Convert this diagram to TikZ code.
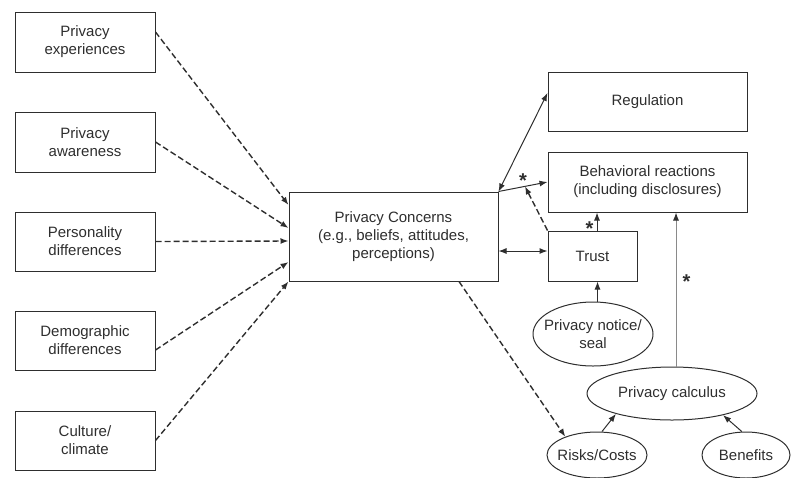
\documentclass[tikz,border=0pt]{standalone}
\usepackage{fontspec}
\setmainfont{Liberation Sans}
\usetikzlibrary{arrows.meta, shapes, calc}
\tikzset{>={Latex[length=8pt,width=6pt]}}

\definecolor{ink}{HTML}{2E2E2E}
\definecolor{pale}{HTML}{8A8A8A}

\begin{document}
\begin{tikzpicture}[
    x = 1pt, y = -1pt,
    font = \fontsize{15}{18}\selectfont,
    every node/.style = {text = ink},
    box/.style = {draw = ink, line width = 1pt, align = center, inner sep = 0pt},
    oval/.style = {ellipse, draw = ink, line width = 1pt, inner sep = 0pt},
    star/.style = {font = \fontsize{20}{20}\selectfont\bfseries, inner sep = 1pt},
    d0/.style = {draw = ink, line width = 1pt},
    d1/.style = {draw = ink, line width = 1.4pt, dash pattern = on 6pt off 3pt},
]
\useasboundingbox (0,0) rectangle (791,477);

% antecedents
\node[box, minimum width = 140, minimum height = 60] (exp) at (85,42) {Privacy\\experiences};
\node[box, minimum width = 140, minimum height = 60] (awa) at (85,142) {Privacy\\awareness};
\node[box, minimum width = 140, minimum height = 59] (per) at (85,241.5) {Personality\\differences};
\node[box, minimum width = 140, minimum height = 59] (dem) at (85,340.5) {Demographic\\differences};
\node[box, minimum width = 140, minimum height = 59] (cul) at (85,440.5) {Culture/\\climate};

\node[box, minimum width = 209, minimum height = 89] (conc) at (393.5,236.5)
    {Privacy Concerns\\(e.g., beliefs, attitudes,\\perceptions)};

% outcomes
\node[box, minimum width = 199, minimum height = 59] (reg) at (647.5,101.5) {Regulation};
\node[box, minimum width = 199, minimum height = 60] (beh) at (647.5,182) {Behavioral reactions\\(including disclosures)};
\node[box, minimum width = 89, minimum height = 50] (trust) at (592.5,256) {Trust};

\node[oval, minimum width = 120, minimum height = 64] (notice) at (593,334) {};
\node[align = center] (noticetxt) at (notice.center) {Privacy notice/\\seal};
\node[oval, minimum width = 170, minimum height = 53] (calc) at (672,393.5) {};
\node (calctxt) at (calc.center) {Privacy calculus};
\node[oval, minimum width = 100, minimum height = 46] (risk) at (597,455) {};
\node (risktxt) at (risk.center) {Risks/Costs};
\node[oval, minimum width = 88, minimum height = 46] (ben) at (746,455) {};
\node (bentxt) at (ben.center) {Benefits};

% dashed antecedent arrows
\draw[d1, ->] ([yshift = 10pt]exp.east) -- ([yshift = 31.5pt]conc.west);
\draw[d1, ->] (awa.east) -- ([yshift = 8.5pt]conc.west);
\draw[d1, ->] (per.east) -- ([yshift = -4.5pt]conc.west);
\draw[d1, ->] ([yshift = -9.5pt]dem.east) -- ([yshift = -25.5pt]conc.west);
\draw[d1, ->] (cul.east) -- (conc.south west);

% concerns to outcomes
\draw[d0, <->] (conc.north east) -- ([yshift = 8.5pt]reg.west);
\draw[d0, ->] (conc.north east) -- node[star, above = -2pt, pos = 0.5] (s1) {*} coordinate[pos = 0.54] (mid) (beh.west);
\draw[d1, ->] (trust.north west) -- (mid);
\draw[d0, <->] ([yshift = -14.5pt]conc.east) -- ([yshift = -14.5pt]conc.east -| trust.west);

\coordinate (tn) at ([xshift = 4.5pt]trust.north);
\draw[d0, ->] (tn) -- node[star, left = 2pt, pos = 0.1] (s2) {*} (tn |- beh.south);
\draw[d0, ->] ([xshift = 4.5pt]notice.north) -- ([xshift = 4.5pt]notice.north |- trust.south);

\coordinate (cn) at ([xshift = 4pt]calc.north);
\draw[draw = pale, line width = 1pt, -{Latex[length=8pt, width=6pt, color=ink]}] (cn) -- node[star, right = 5pt, pos = 0.55] (s3) {*} (cn |- beh.south);

\draw[d1, ->] ([xshift = 65.5pt]conc.south) -- (risk.150);
\draw[d0, ->] ([xshift = 5pt]risk.north) -- (calc.200);
\draw[d0, ->] (ben.100) -- (calc.337);

\end{tikzpicture}
\end{document}
